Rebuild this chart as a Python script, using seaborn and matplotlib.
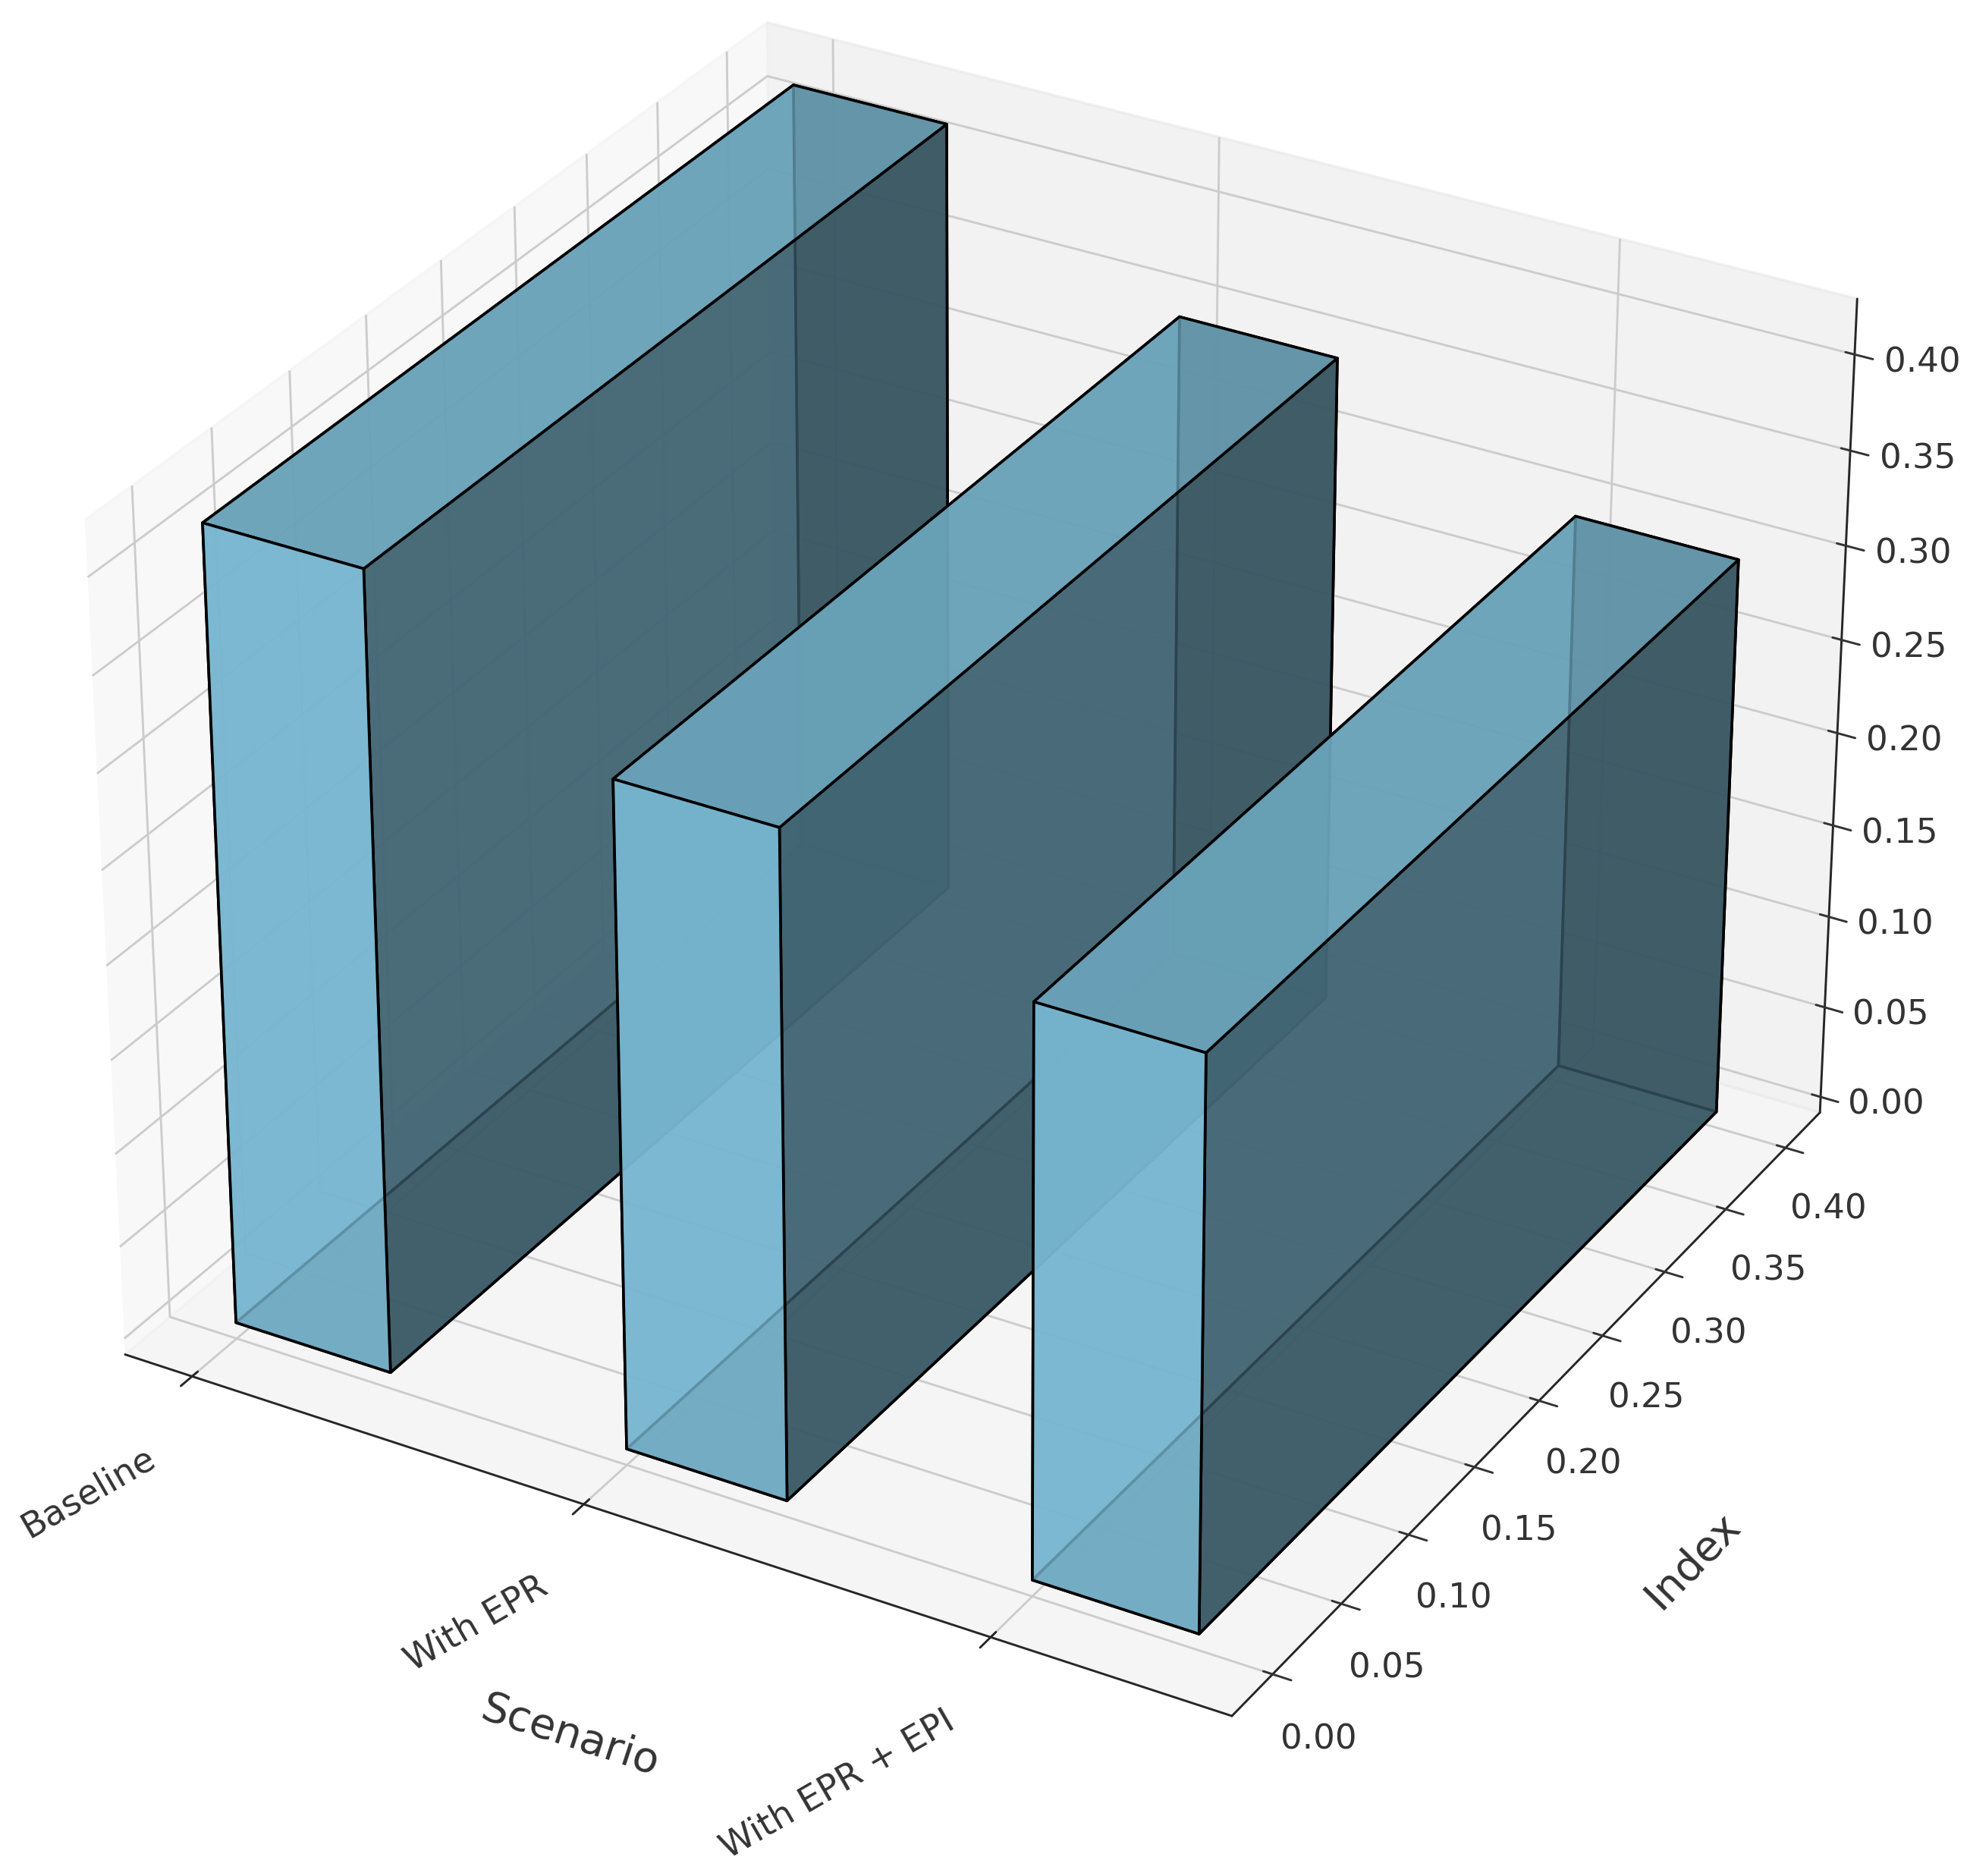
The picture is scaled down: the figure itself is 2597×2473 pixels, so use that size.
import numpy as np
import matplotlib
matplotlib.use("Agg")
import matplotlib.pyplot as plt
import seaborn as sns

scenarios = ["Baseline", "With EPR", "With EPR + EPI"]
index_values = [0.42, 0.35, 0.30]
depth_values = [0.40, 0.40, 0.40]
z_ticks = [0.00, 0.05, 0.10, 0.15, 0.20, 0.25, 0.30, 0.35, 0.40]
y_ticks = [0.00, 0.05, 0.10, 0.15, 0.20, 0.25, 0.30, 0.35, 0.40]

sns.set_style("white")

fig = plt.figure(figsize=(9.99, 9.515), dpi=260)
ax = fig.add_subplot(projection="3d")
ax.set_position([-0.037, 0.019, 1.05, 1.05])

x = np.arange(len(scenarios))
ax.bar3d(x, np.zeros(3), np.zeros(3), 0.4, depth_values, index_values,
         color="skyblue", edgecolor="black", alpha=0.8, linewidth=1.0, shade=True)

ax.set_xticks(x)
ax.set_xticklabels(scenarios, rotation=30, ha="right", fontsize=12.8, color="#333333")
ax.set_yticks(y_ticks)
ax.set_zticks(z_ticks)
ax.tick_params(axis="x", pad=9)
ax.tick_params(axis="y", labelsize=12.5, colors="#333333", pad=7)
ax.tick_params(axis="z", labelsize=12.5, colors="#333333", pad=7)
ax.set_xlabel("Scenario", fontsize=15.5, labelpad=32, color="#333333")
ax.set_ylabel("Index", fontsize=15.5, labelpad=31, color="#333333")
ax.view_init(elev=30, azim=-60)

fig.savefig("out.png", dpi=260)
